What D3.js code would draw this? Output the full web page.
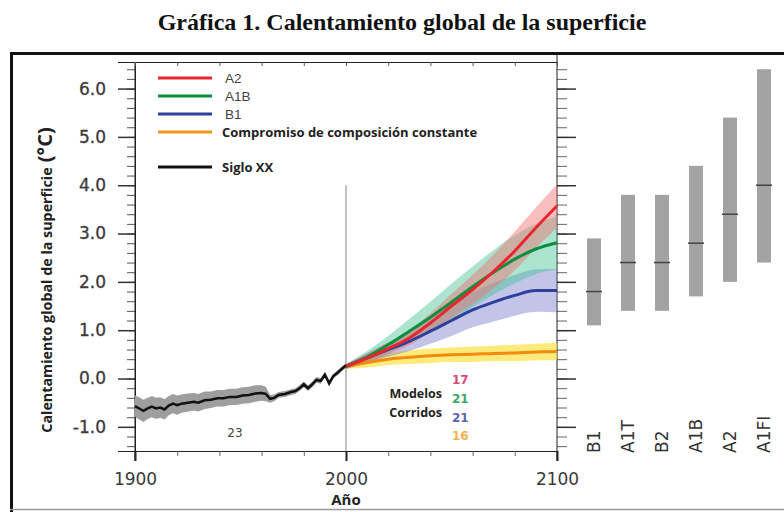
<!DOCTYPE html>
<html>
<head>
<meta charset="utf-8">
<script src="https://cdn.jsdelivr.net/npm/d3@7/dist/d3.min.js"></script>
<style>
  html, body { margin: 0; padding: 0; background: #fff; }
  svg { display: block; }
</style>
</head>
<body>
<svg id="chart" width="784" height="512"></svg>
<script>
// ---------------- DATA ----------------
const titleText = "Gráfica 1. Calentamiento global de la superficie";
const yTicks = [-1, 0, 1, 2, 3, 4, 5, 6];
const xTicks = [1900, 2000, 2100];

const histYears  = [1900,1902,1904,1906,1908,1910,1912,1914,1916,1918,1920,1922,1925,1928,1930,1933,1936,1939,1942,1945,1948,1951,1954,1957,1960,1962,1964,1966,1968,1971,1974,1976,1978,1980,1982,1984,1986,1988,1990,1992,1994,1996,1998,2000];
const histValues = [-0.57,-0.62,-0.67,-0.62,-0.58,-0.62,-0.60,-0.64,-0.56,-0.52,-0.55,-0.52,-0.50,-0.48,-0.50,-0.45,-0.44,-0.41,-0.41,-0.38,-0.38,-0.35,-0.34,-0.31,-0.30,-0.32,-0.42,-0.40,-0.34,-0.32,-0.28,-0.26,-0.20,-0.12,-0.20,-0.12,-0.03,-0.05,0.08,-0.10,0.05,0.12,0.20,0.27];
const histSpread = [0.22,0.23,0.23,0.22,0.22,0.22,0.21,0.21,0.20,0.20,0.20,0.19,0.19,0.18,0.18,0.18,0.17,0.17,0.17,0.17,0.17,0.17,0.17,0.17,0.16,0.15,0.08,0.07,0.06,0.06,0.06,0.06,0.06,0.06,0.06,0.06,0.06,0.06,0.06,0.06,0.05,0.05,0.05,0.05];

const projYears   = [2000,2010,2020,2030,2040,2050,2060,2070,2080,2090,2100];
const a2Values    = [0.25,0.42,0.62,0.84,1.15,1.50,1.84,2.22,2.64,3.12,3.57];
const a2Spread    = [0.05,0.10,0.12,0.15,0.20,0.25,0.30,0.35,0.40,0.42,0.45];
const a1bValues   = [0.25,0.45,0.70,0.98,1.27,1.58,1.90,2.20,2.47,2.68,2.81];
const a1bSpread   = [0.05,0.12,0.18,0.25,0.32,0.38,0.42,0.46,0.50,0.52,0.55];
const b1Values    = [0.25,0.43,0.60,0.77,0.98,1.20,1.42,1.58,1.72,1.82,1.82];
const b1Spread    = [0.05,0.10,0.15,0.20,0.26,0.32,0.36,0.40,0.42,0.44,0.45];
const commitValues= [0.25,0.33,0.40,0.44,0.47,0.49,0.50,0.52,0.53,0.55,0.56];
const commitSpread= [0.05,0.10,0.12,0.14,0.15,0.15,0.16,0.16,0.17,0.17,0.18];

const legendLabels = ["A2", "A1B", "B1", "Compromiso de composición constante", "Siglo XX"];
const modelCounts = ["17", "21", "21", "16"];
const histModelCount = "23";

const scenarios = ["B1", "A1T", "B2", "A1B", "A2", "A1FI"];
const scenLow   = [1.1, 1.4, 1.4, 1.7, 2.0, 2.4];
const scenBest  = [1.8, 2.4, 2.4, 2.8, 3.4, 4.0];
const scenHigh  = [2.9, 3.8, 3.8, 4.4, 5.4, 6.4];

// ---------------- DRAW ----------------
const svg = d3.select("#chart");
const axisFont = "'DejaVu Sans', Arial, sans-serif";

// frame
svg.append("line").attr("x1", 10).attr("x2", 784).attr("y1", 53.5).attr("y2", 53.5)
  .attr("stroke", "#111").attr("stroke-width", 3);
svg.append("line").attr("x1", 11.5).attr("x2", 11.5).attr("y1", 52).attr("y2", 512)
  .attr("stroke", "#111").attr("stroke-width", 3);
svg.append("line").attr("x1", 10).attr("x2", 784).attr("y1", 509.5).attr("y2", 509.5)
  .attr("stroke", "#999").attr("stroke-width", 1.5);

// title
svg.append("text").attr("x", 402).attr("y", 30).attr("text-anchor", "middle")
  .attr("font-family", "'Liberation Serif', 'Times New Roman', serif")
  .attr("font-weight", "bold").attr("font-size", 24).attr("fill", "#111")
  .text(titleText);

const x = d3.scaleLinear().domain([1900, 2100]).range([135, 557]);
const y = d3.scaleLinear().domain([-1.5, 6.55]).range([451, 62]);

const minorY = d3.range(-14, 66, 2).map(v => v / 10);
const minorX = d3.range(1900, 2101, 20);

// left axis minor
svg.append("g").attr("transform", "translate(135,0)")
  .call(d3.axisLeft(y).tickValues(minorY).tickSize(8).tickFormat(""))
  .call(g => g.select(".domain").remove())
  .call(g => g.selectAll("line").attr("stroke", "#555"));
// left axis major
const gl = svg.append("g").attr("transform", "translate(135,0)")
  .call(d3.axisLeft(y).tickValues(yTicks).tickSize(17).tickPadding(12)
        .tickFormat(d => d.toFixed(1)));
gl.select(".domain").attr("stroke", "#222");
gl.selectAll("line").attr("stroke", "#333").attr("stroke-width", 1.5);
gl.selectAll("text").attr("font-family", axisFont).attr("font-size", 17).attr("fill", "#3a3a3a")
  .attr("stroke", "#3a3a3a").attr("stroke-width", 0.3);
svg.append("line").attr("x1", 135).attr("x2", 135).attr("y1", 62).attr("y2", 461)
  .attr("stroke", "#222");

// right axis
svg.append("g").attr("transform", "translate(557,0)")
  .call(d3.axisRight(y).tickValues(minorY).tickSize(10).tickFormat(""))
  .call(g => g.select(".domain").remove())
  .call(g => g.selectAll("line").attr("stroke", "#666"));
svg.append("g").attr("transform", "translate(557,0)")
  .call(d3.axisRight(y).tickValues(yTicks).tickSize(19).tickFormat(""))
  .call(g => g.select(".domain").remove())
  .call(g => g.selectAll("line").attr("stroke", "#333").attr("stroke-width", 1.5));
svg.append("line").attr("x1", 557).attr("x2", 557).attr("y1", 52).attr("y2", 461)
  .attr("stroke", "#222");

// top axis
svg.append("g").attr("transform", "translate(0,62)")
  .call(d3.axisTop(x).tickValues(minorX).tickSizeInner(-4).tickSizeOuter(0).tickFormat(""))
  .call(g => g.select(".domain").attr("stroke", "#222"))
  .call(g => g.selectAll("line").attr("stroke", "#555"));

// bottom axis
svg.append("g").attr("transform", "translate(0,451)")
  .call(d3.axisBottom(x).tickValues(minorX).tickSizeInner(5).tickSizeOuter(0).tickFormat(""))
  .call(g => g.select(".domain").attr("stroke", "#222"))
  .call(g => g.selectAll("line").attr("stroke", "#666"));
const gb = svg.append("g").attr("transform", "translate(0,451)")
  .call(d3.axisBottom(x).tickValues(xTicks).tickSizeInner(10).tickSizeOuter(0).tickPadding(12)
        .tickFormat(d3.format("d")));
gb.select(".domain").remove();
gb.selectAll("line").attr("stroke", "#222").attr("stroke-width", 2);
gb.selectAll("text").attr("font-family", axisFont).attr("font-size", 17).attr("fill", "#3a3a3a");

// x axis title
svg.append("text").attr("x", x(2000)).attr("y", 505).attr("text-anchor", "middle")
  .attr("font-family", "'Open Sans', 'DejaVu Sans', sans-serif").attr("font-weight", "bold")
  .attr("font-size", 15).attr("fill", "#222").text("Año");

// y axis title
const yt = svg.append("text")
  .attr("transform", "translate(52,280) rotate(-90)")
  .attr("text-anchor", "middle")
  .attr("font-family", "'Open Sans', 'DejaVu Sans', sans-serif").attr("font-weight", "bold")
  .attr("fill", "#222");
yt.append("tspan").attr("font-size", 14.3).text("Calentamiento global de la superficie");
yt.append("tspan").attr("font-size", 20).text(" (°C)");

// 2000 divider
svg.append("line").attr("x1", x(2000)).attr("x2", x(2000)).attr("y1", y(4)).attr("y2", 451)
  .attr("stroke", "#999").attr("stroke-width", 1.2);

// helpers
function bandData(years, vals, spread) {
  return years.map((yr, i) => ({ yr, v: vals[i], s: spread[i] }));
}
const area = d3.area().x(d => x(d.yr)).y0(d => y(d.v - d.s)).y1(d => y(d.v + d.s))
  .curve(d3.curveMonotoneX);
const areaLin = d3.area().x(d => x(d.yr)).y0(d => y(d.v - d.s)).y1(d => y(d.v + d.s));
const line = d3.line().x(d => x(d.yr)).y(d => y(d.v)).curve(d3.curveMonotoneX);
const lineLin = d3.line().x(d => x(d.yr)).y(d => y(d.v));

const series = [
  { vals: b1Values,  spr: b1Spread,  band: "rgba(120,125,205,0.45)", col: "#2f3f9c" },
  { vals: a1bValues, spr: a1bSpread, band: "rgba(70,195,150,0.45)",  col: "#0b8f3f" },
  { vals: a2Values,  spr: a2Spread,  band: "rgba(245,110,110,0.45)", col: "#e8262b" }
];
const commit = { vals: commitValues, spr: commitSpread, band: "rgba(250,225,50,0.65)", col: "#f08a10" };

// historical
const hist = bandData(histYears, histValues, histSpread);
svg.append("path").datum(hist).attr("d", areaLin).attr("fill", "#9e9e9e");

// bands
[commit, ...series].forEach(s => {
  svg.append("path").datum(bandData(projYears, s.vals, s.spr)).attr("d", area)
    .attr("fill", s.band);
});
// lines
[commit, ...series].forEach(s => {
  svg.append("path").datum(bandData(projYears, s.vals, s.spr)).attr("d", line)
    .attr("fill", "none").attr("stroke", s.col).attr("stroke-width", 3);
});
svg.append("path").datum(hist).attr("d", lineLin)
  .attr("fill", "none").attr("stroke", "#111").attr("stroke-width", 2.5);

// legend
const legendColors = ["#e8262b", "#0b8f3f", "#2f3f9c", "#f7941d", "#111"];
const legendY = [78, 96, 114, 132, 167];
legendLabels.forEach((lab, i) => {
  svg.append("line").attr("x1", 158).attr("x2", 212).attr("y1", legendY[i]).attr("y2", legendY[i])
    .attr("stroke", legendColors[i]).attr("stroke-width", 3);
  const bold = i >= 3;
  svg.append("text").attr("x", bold ? 222 : 225).attr("y", legendY[i] + 5)
    .attr("font-family", bold ? "'Open Sans', sans-serif" : "Arial, 'Liberation Sans', sans-serif")
    .attr("font-weight", bold ? "bold" : "normal")
    .attr("font-size", bold ? 13 : 13.5)
    .attr("fill", bold ? "#222" : "#444")
    .text(lab);
});

// model counts
svg.append("text").attr("x", 442).attr("y", 398).attr("text-anchor", "end")
  .attr("font-family", "'Open Sans', sans-serif").attr("font-weight", "bold")
  .attr("font-size", 12.5).attr("fill", "#222").text("Modelos");
svg.append("text").attr("x", 442).attr("y", 417).attr("text-anchor", "end")
  .attr("font-family", "'Open Sans', sans-serif").attr("font-weight", "bold")
  .attr("font-size", 12.5).attr("fill", "#222").text("Corridos");
const countColors = ["#e04a78", "#3aa860", "#5a63b0", "#f2b050"];
const countY = [384, 403, 422, 440];
modelCounts.forEach((c, i) => {
  svg.append("text").attr("x", 452).attr("y", countY[i])
    .attr("font-family", axisFont).attr("font-weight", "bold")
    .attr("font-size", 12).attr("fill", countColors[i]).text(c);
});
svg.append("text").attr("x", 235).attr("y", 437).attr("text-anchor", "middle")
  .attr("font-family", axisFont).attr("font-size", 12).attr("fill", "#444").text(histModelCount);

// right panel bars
const xs = d3.scalePoint().domain(scenarios).range([594, 764]);
const bw = 14;
scenarios.forEach((s, i) => {
  svg.append("rect").attr("x", xs(s) - bw / 2).attr("width", bw)
    .attr("y", y(scenHigh[i])).attr("height", y(scenLow[i]) - y(scenHigh[i]))
    .attr("fill", "#a3a3a3");
  svg.append("line").attr("x1", xs(s) - bw / 2 - 1).attr("x2", xs(s) + bw / 2 + 1)
    .attr("y1", y(scenBest[i])).attr("y2", y(scenBest[i]))
    .attr("stroke", "#444").attr("stroke-width", 1.5);
  svg.append("text").attr("transform", `translate(${xs(s) + 6},453) rotate(-90)`)
    .attr("font-family", axisFont).attr("font-size", 17).attr("fill", "#333").text(s);
});
</script>
</body>
</html>
